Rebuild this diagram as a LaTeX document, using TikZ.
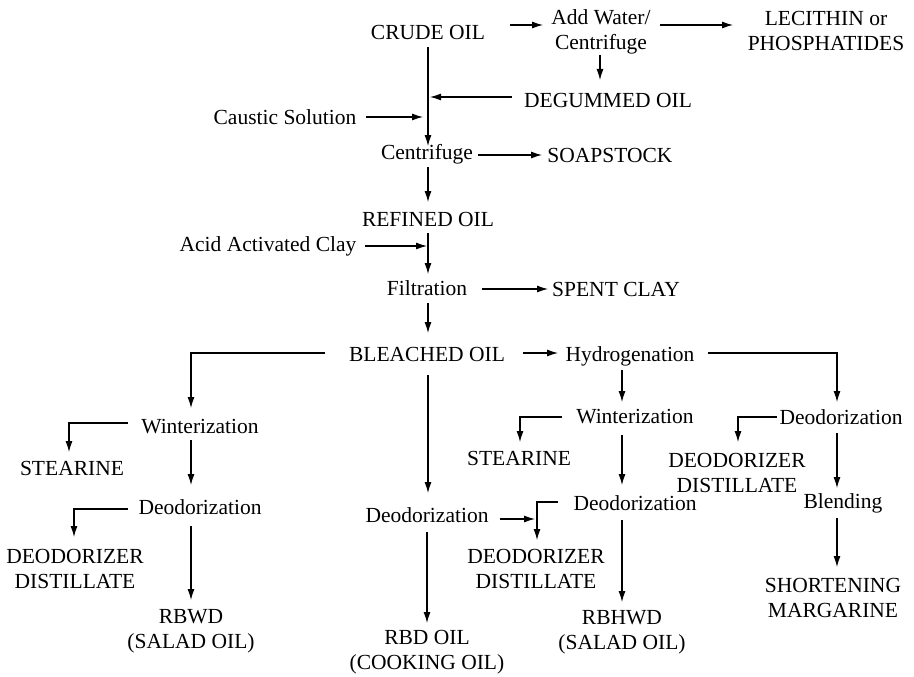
\documentclass[tikz,border=0pt]{standalone}
\usepackage{fontspec}
\setmainfont{Liberation Serif}
\usetikzlibrary{calc,arrows.meta}
\begin{document}
\begin{tikzpicture}[x=1pt,y=-1pt,
  lbl/.style={font=\fontsize{21.5}{25}\selectfont, align=center, inner sep=0pt},
  arr/.style={-{Latex[length=11pt,width=7pt]}, line width=1.1pt}]
\useasboundingbox (0,0) rectangle (914,677);

% ---- refining line
\node[lbl] (crude)   at (428,32)  {CRUDE OIL};
\node[lbl] (addw)    at (601,32)  {Add Water/\\Centrifuge};
\node[lbl] (lec)     at (826,31)  {LECITHIN or\\PHOSPHATIDES};
\node[lbl] (degum)   at (608,100) {DEGUMMED OIL};
\node[lbl] (caustic) at (285,117) {Caustic Solution};
\node[lbl] (cent)    at (427,154) {Centrifuge};
\node[lbl] (soap)    at (610,155) {SOAPSTOCK};
\node[lbl] (refined) at (428,219) {REFINED OIL};
\node[lbl] (acid)    at (268,246) {Acid Activated Clay};
\node[lbl] (filt)    at (427,288) {Filtration};
\node[lbl] (spent)   at (616,289) {SPENT CLAY};
\node[lbl] (bleach)  at (427,354) {BLEACHED OIL};
\node[lbl] (hyd)     at (630,356) {Hydrogenation};

% ---- left branch
\node[lbl] (wintL)  at (200,427) {Winterization};
\node[lbl] (stearL) at (72,468)  {STEARINE};
\node[lbl] (deoL)   at (200,507) {Deodorization};
\node[lbl] (ddL)    at (75,569)  {DEODORIZER\\DISTILLATE};
\node[lbl] (rbwd)   at (191,631) {RBWD\\(SALAD OIL)};

% ---- centre branch
\node[lbl] (deoC) at (427,515) {Deodorization};
\node[lbl] (rbd)  at (427,652) {RBD OIL\\(COOKING OIL)};

% ---- hydrogenated branch
\node[lbl] (wintM)  at (635,417) {Winterization};
\node[lbl] (stearM) at (519,458) {STEARINE};
\node[lbl] (deoM)   at (635,503) {Deodorization};
\node[lbl] (ddM)    at (536,569) {DEODORIZER\\DISTILLATE};
\node[lbl] (rbhwd)  at (622,632) {RBHWD\\(SALAD OIL)};

% ---- right branch
\node[lbl] (deoR)  at (841,417) {Deodorization};
\node[lbl] (ddR)   at (737,473) {DEODORIZER\\DISTILLATE};
\node[lbl] (blend) at (843,503) {Blending};
\node[lbl] (short) at (833,598) {SHORTENING\\MARGARINE};

% ---- connectors: refining line
\draw[arr] ($(crude)+(82,-7)$) -- ($(addw)+(-58,-7)$);
\draw[arr] ($(addw)+(59,-7)$) -- ($(lec)+(-93,-6)$);
\draw[arr] ($(addw)+(-1,23)$) -- ($(degum)+(-8,-20)$);
\draw[arr] ($(crude)+(0,15)$) -- ($(cent)+(1,-8)$);
\draw[arr] ($(degum)+(-96,-3)$) -- ($(cent)+(3,-57)$);
\draw[arr] ($(caustic)+(81,0)$) -- ($(cent)+(-4,-37)$);
\draw[arr] ($(cent)+(51,1)$) -- ($(soap)+(-68,0)$);
\draw[arr] ($(cent)+(1,13)$) -- ($(refined)+(0,-17)$);
\draw[arr] ($(refined)+(0,14)$) -- ($(filt)+(1,-14)$);
\draw[arr] ($(acid)+(97,0)$) -- ($(filt)+(0,-42)$);
\draw[arr] ($(filt)+(55,1)$) -- ($(spent)+(-68,0)$);
\draw[arr] ($(filt)+(1,15)$) -- ($(bleach)+(1,-21)$);

% ---- connectors: branches from bleached oil
\draw[arr] ($(bleach)+(-102,-1)$) -| ($(wintL)+(-9,-19)$);
\draw[arr] ($(bleach)+(96,-1)$) -- ($(hyd)+(-72,-3)$);
\draw[arr] ($(hyd)+(78,-3)$) -| ($(deoR)+(-4,-15)$);
\draw[arr] ($(hyd)+(-8,14)$) -- ($(wintM)+(-13,-15)$);
\draw[arr] ($(bleach)+(1,21)$) -- ($(deoC)+(1,-22)$);

% ---- left branch
\draw[arr] ($(wintL)+(-72,-4)$) -| ($(stearL)+(-3,-16)$);
\draw[arr] ($(wintL)+(-9,13)$) -- ($(deoL)+(-9,-22)$);
\draw[arr] ($(deoL)+(-72,2)$) -| ($(ddL)+(-1,-32)$);
\draw[arr] ($(deoL)+(-9,19)$) -- ($(rbwd)+(0,-31)$);

% ---- centre branch
\draw[arr] ($(deoC)+(73,4)$) -- ($(ddM)+(-1,-50)$);
\draw[arr] ($(deoC)+(0,17)$) -- ($(rbd)+(0,-29)$);

% ---- hydrogenated branch
\draw[arr] ($(wintM)+(-73,0)$) -| ($(stearM)+(1,-16)$);
\draw[arr] ($(wintM)+(-13,18)$) -- ($(deoM)+(-13,-18)$);
\draw[arr] ($(deoM)+(-77,-1)$) -| ($(ddM)+(1,-29)$);
\draw[arr] ($(deoM)+(-13,17)$) -- ($(rbhwd)+(0,-30)$);

% ---- right branch
\draw[arr] ($(deoR)+(-64,0)$) -| ($(ddR)+(1,-31)$);
\draw[arr] ($(deoR)+(-4,16)$) -- ($(blend)+(-6,-15)$);
\draw[arr] ($(blend)+(-6,15)$) -- ($(short)+(4,-31)$);
\end{tikzpicture}
\end{document}
